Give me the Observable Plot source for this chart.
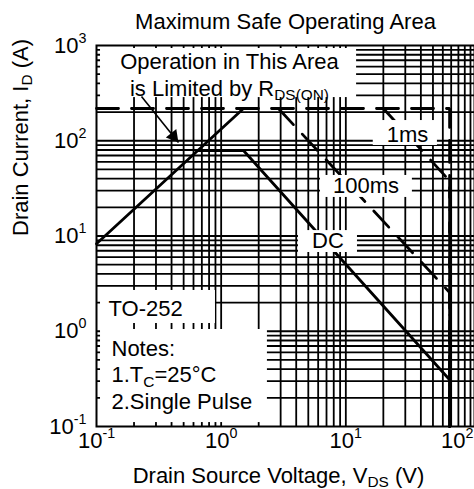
<!DOCTYPE html>
<html><head><meta charset="utf-8">
<script src="https://cdn.jsdelivr.net/npm/d3@7"></script>
<script src="https://cdn.jsdelivr.net/npm/@observablehq/plot@0.6"></script>
<style>body{margin:0;background:#fff}</style>
</head><body>
<script>
// ---- axes / ticks ----
const xTicks = [0.1, 1, 10, 100];
const xTickLabels = ["10^{-1}", "10^{0}", "10^{1}", "10^{2}"];
const xTickAnchor = ["middle", "middle", "middle", "end"];
const yTicks = [0.1, 1, 10, 100, 1000];
const yTickLabels = ["10^{-1}", "10^{0}", "10^{1}", "10^{2}", "10^{3}"];
const xGrid = [0.2,0.3,0.4,0.5,0.6,0.7,0.8,0.9,1,2,3,4,5,6,7,8,9,10,20,30,40,50,60,70,80,90,100];
const yGrid = [0.2,0.3,0.4,0.5,0.6,0.7,0.8,0.9,1,2,3,4,5,6,7,8,9,10,20,30,40,50,60,70,80,90,100,200,300,400,500,600,700,800,900];

// ---- SOA curves (V, A) ----
const rdsV = [0.1, 1.51];          const rdsI = [8.3, 218];
const limitV = [0.1, 68, 68];      const limitI = [218, 218, 0.1];
const ms1V = [20.0, 68, 68];       const ms1I = [218, 38, 0.1];
const ms100V = [2.88, 68, 68];     const ms100I = [218, 2.55, 0.1];
const dcV = [0.65, 1.51, 68, 68];  const dcI = [79, 79, 0.31, 0.1];

// ---- annotation boxes ----
const boxX1 = [0.1077, 0.1077, 0.1077, 16.6, 6.26, 4.17];
const boxX2 = [12.2, 0.900, 2.35, 54.3, 34.2, 12.4];
const boxY1 = [930, 2.68, 1.043, 163, 43.2, 11.4];
const boxY2 = [284, 1.206, 0.110, 89.2, 25.4, 6.71];

// ---- annotation texts ----
const annText = ["Operation in This Area", "is Limited by R_{DS(ON)}", "1ms", "100ms", "DC", "TO-252", "Notes:", "1.T_{C}=25°C", "2.Single Pulse"];
const annX = [1.166, 1.166, 31.2, 14.5, 7.19, 0.1248, 0.1319, 0.1319, 0.1319];
const annY = [573, 298.5, 95.9, 28.6, 7.57, 1.46, 0.556, 0.29, 0.1545];
const annAnchor = ["middle", "middle", "middle", "middle", "middle", "start", "start", "start", "start"];

// ---- arrow ----
const arrowV = [0.2296, 0.4546];  const arrowI = [291, 95.9];
const headV = [0.4146];           const headI = [111.4];

const titleText = "Maximum Safe Operating Area";
const xLabel = "Drain Source Voltage, V_{DS} (V)";
const yLabel = "Drain Current, I_{D} (A)";

const pts = (V, I) => V.map((v, k) => ({v, i: I[k]}));
const boxes = boxX1.map((d, k) => ({x1: d, x2: boxX2[k], y1: boxY1[k], y2: boxY2[k]}));
const anns = annText.map((t, k) => ({t, x: annX[k], y: annY[k], a: annAnchor[k]}));
const xt = xTicks.map((v, k) => ({v, t: xTickLabels[k], a: xTickAnchor[k]}));
const FS = 22;
const curve = {x: "v", y: "i", stroke: "black", strokeWidth: 2.8, strokeLinejoin: "miter"};
const dash = {...curve, strokeDasharray: "22,13"};

const plot = Plot.plot({
  width: 474, height: 489,
  marginLeft: 96, marginRight: 0, marginTop: 45, marginBottom: 63,
  x: {type: "log", domain: [0.1, 107.7], axis: null},
  y: {type: "log", domain: [0.1, 1000], axis: null},
  style: {fontFamily: "'Liberation Sans', Arial, sans-serif", fontSize: FS + "px", background: "white", color: "black", overflow: "visible"},
  marks: [
    Plot.ruleX(xGrid, {x: d => d, stroke: "black", strokeWidth: 1.8}),
    Plot.ruleY(yGrid, {y: d => d, stroke: "black", strokeWidth: 1.8}),
    Plot.line(pts(rdsV, rdsI), curve),
    Plot.line(pts(dcV, dcI), curve),
    Plot.line(pts(limitV, limitI), dash),
    Plot.line(pts(ms1V, ms1I), dash),
    Plot.line(pts(ms100V, ms100I), dash),
    Plot.rect(boxes, {x1: "x1", x2: "x2", y1: "y1", y2: "y2", fill: "white"}),
    Plot.link([0], {x1: () => arrowV[0], y1: () => arrowI[0], x2: () => arrowV[1], y2: () => arrowI[1], stroke: "black", strokeWidth: 1.6}),
    Plot.dot(headV.map((v, k) => ({v, i: headI[k]})), {x: "v", y: "i", symbol: "triangle", r: 5, fill: "black", stroke: "none", rotate: 141}),
    Plot.text(anns.filter(d => d.a === "middle"), {x: "x", y: "y", text: "t", textAnchor: "middle", lineAnchor: "bottom", fontSize: FS, fill: "black"}),
    Plot.text(anns.filter(d => d.a === "start"), {x: "x", y: "y", text: "t", textAnchor: "start", lineAnchor: "bottom", fontSize: FS, fill: "black"}),
    Plot.text(xt.filter(d => d.a === "middle"), {x: "v", text: "t", frameAnchor: "bottom", lineAnchor: "top", dy: 6, fontSize: FS, fill: "black"}),
    Plot.text(xt.filter(d => d.a === "end"), {x: "v", text: "t", textAnchor: "end", frameAnchor: "bottom", lineAnchor: "top", dy: 6, dx: 3, fontSize: FS, fill: "black"}),
    Plot.text(yTicks, {y: d => d, text: (d, k) => yTickLabels[k], frameAnchor: "left", textAnchor: "end", dx: -10, fontSize: FS, fill: "black"}),
    Plot.text([titleText], {text: d => d, frameAnchor: "top", lineAnchor: "bottom", dy: -17, fontSize: FS, fill: "black"}),
    Plot.text([xLabel], {text: d => d, frameAnchor: "bottom", lineAnchor: "bottom", dy: 56, dx: -7, fontSize: FS, fill: "black"}),
    Plot.text([yLabel], {text: d => d, frameAnchor: "left", lineAnchor: "bottom", rotate: -90, dx: -69, fontSize: FS, fill: "black"}),
    Plot.frame({stroke: "black", strokeWidth: 2})
  ]
});
document.body.appendChild(plot);

// super/subscript markup -> tspans
(function richText(root) {
  const ns = "http://www.w3.org/2000/svg";
  root.querySelectorAll("text, tspan").forEach(el => {
    for (const node of Array.from(el.childNodes)) {
      if (node.nodeType !== 3) continue;
      const s = node.nodeValue;
      if (!/[\^_]\{/.test(s)) continue;
      const fs = parseFloat(getComputedStyle(el).fontSize) || FS;
      const frag = document.createDocumentFragment();
      let cur = 0, last = 0, m;
      const add = (txt, size, target) => {
        if (!txt) return;
        const t = document.createElementNS(ns, "tspan");
        if (size) t.setAttribute("font-size", size);
        const dy = target - cur;
        if (dy) t.setAttribute("dy", dy);
        cur = target;
        t.textContent = txt;
        frag.appendChild(t);
      };
      const re = /([\^_])\{([^}]*)\}/g;
      while ((m = re.exec(s))) {
        add(s.slice(last, m.index), null, 0);
        if (m[1] === "^") add(m[2], 0.65 * fs, -0.45 * fs);
        else add(m[2], 0.7 * fs, 0.2 * fs);
        last = re.lastIndex;
      }
      add(s.slice(last), null, 0);
      el.replaceChild(frag, node);
    }
  });
})(plot);
</script>
</body></html>
